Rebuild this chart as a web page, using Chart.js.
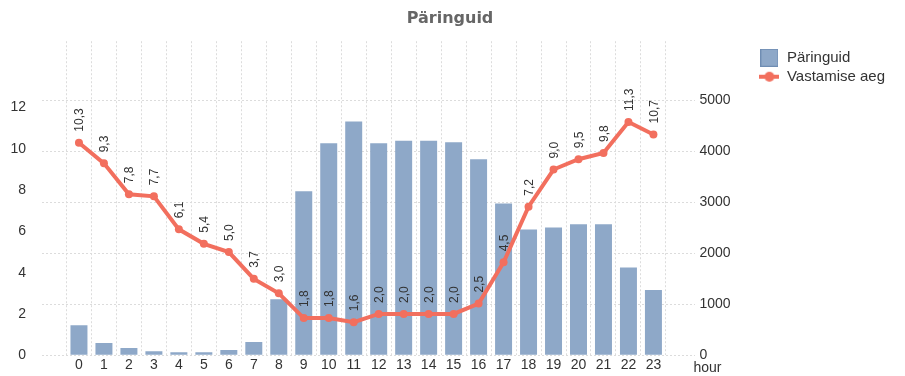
<!DOCTYPE html>
<html>
<head>
<meta charset="utf-8">
<script src="https://cdn.jsdelivr.net/npm/chart.js@4/dist/chart.umd.min.js"></script>
<style>
  html, body { margin: 0; padding: 0; background: #fff; }
  #wrap { width: 905px; height: 376px; }
</style>
</head>
<body>
<div id="wrap"><canvas id="chart" width="905" height="376"></canvas></div>
<script>
// hours of the day
const hours = [0, 1, 2, 3, 4, 5, 6, 7, 8, 9, 10, 11, 12, 13, 14, 15, 16, 17, 18, 19, 20, 21, 22, 23];
// Päringuid (right axis)
const requests = [590, 240, 140, 80, 60, 60, 100, 260, 1100, 3220, 4160, 4590, 4160, 4210, 4210, 4180, 3850, 2980, 2470, 2510, 2570, 2570, 1720, 1280];
// Vastamise aeg (left axis)
const responseTime = [10.3, 9.3, 7.8, 7.7, 6.1, 5.4, 5.0, 3.7, 3.0, 1.8, 1.8, 1.6, 2.0, 2.0, 2.0, 2.0, 2.5, 4.5, 7.2, 9.0, 9.5, 9.8, 11.3, 10.7];
const leftTicks = [0, 2, 4, 6, 8, 10, 12];
const rightTicks = [0, 1000, 2000, 3000, 4000, 5000];

const barColor = '#8ea8c8';
const barEdge = '#6f8db3';
const lineColor = '#f26f5e';
const gridColor = '#dcdcdc';

const fmt = v => v.toFixed(1).replace('.', ',');

// legend icons
function barIcon() {
    const cv = document.createElement('canvas');
    cv.width = 18; cv.height = 18;
    const g = cv.getContext('2d');
    g.fillStyle = barColor;
    g.fillRect(0, 0, 18, 18);
    g.strokeStyle = barEdge;
    g.lineWidth = 1;
    g.strokeRect(0.5, 0.5, 17, 17);
    return cv;
}
function lineIcon() {
    const cv = document.createElement('canvas');
    cv.width = 20; cv.height = 12;
    const g = cv.getContext('2d');
    g.strokeStyle = lineColor;
    g.lineWidth = 4;
    g.beginPath();
    g.moveTo(0, 6); g.lineTo(20, 6);
    g.stroke();
    g.fillStyle = lineColor;
    g.beginPath();
    g.arc(10, 6, 5, 0, Math.PI * 2);
    g.fill();
    return cv;
}

// rotated value labels above the line points
const valueLabels = {
    id: 'valueLabels',
    afterDatasetsDraw(chart) {
        const meta = chart.getDatasetMeta(1);
        const c = chart.ctx;
        c.save();
        c.font = '12px "Liberation Sans", Arial, sans-serif';
        c.fillStyle = '#333';
        c.textAlign = 'left';
        c.textBaseline = 'middle';
        meta.data.forEach((pt, i) => {
            c.save();
            c.translate(pt.x + 1, pt.y - 11);
            c.rotate(-Math.PI / 2);
            c.fillText(fmt(responseTime[i]), 0, 0);
            c.restore();
        });
        c.restore();
    }
};

// "hour" axis caption at the right end of the x axis
const hourCaption = {
    id: 'hourCaption',
    afterDraw(chart) {
        const a = chart.chartArea;
        const c = chart.ctx;
        c.save();
        c.font = '14px "Liberation Sans", Arial, sans-serif';
        c.fillStyle = '#333';
        c.textAlign = 'center';
        c.textBaseline = 'middle';
        c.fillText('hour', a.right + 12, a.bottom + 13);
        c.restore();
    }
};

const tickFont = { family: '"Liberation Sans", Arial, sans-serif', size: 14 };

new Chart(document.getElementById('chart').getContext('2d'), {
    type: 'bar',
    data: {
        datasets: [{
            type: 'bar',
            label: 'Päringuid',
            data: hours.map((h, i) => ({ x: h, y: requests[i] })),
            yAxisID: 'y1',
            backgroundColor: barColor,
            borderColor: barEdge,
            borderWidth: 0,
            barPercentage: 0.68,
            categoryPercentage: 1,
            order: 2
        }, {
            type: 'line',
            label: 'Vastamise aeg',
            data: hours.map((h, i) => ({ x: h, y: responseTime[i] })),
            yAxisID: 'y',
            borderColor: lineColor,
            backgroundColor: lineColor,
            borderWidth: 4,
            pointRadius: 4,
            pointBorderWidth: 0,
            tension: 0,
            order: 1
        }]
    },
    options: {
        responsive: false,
        animation: false,
        layout: { padding: { left: 5, right: 10, top: 0, bottom: 0 } },
        plugins: {
            title: {
                display: true,
                text: 'Päringuid',
                color: '#666',
                font: { family: '"DejaVu Sans", Verdana, sans-serif', size: 16, weight: 'bold' },
                padding: { top: 9, bottom: 13 }
            },
            legend: {
                position: 'right',
                align: 'start',
                title: { display: true, text: ' ', font: { size: 1 }, padding: { top: 45, bottom: 0 } },
                labels: {
                    color: '#333',
                    font: { family: '"Liberation Sans", Arial, sans-serif', size: 15 },
                    usePointStyle: true,
                    pointStyleWidth: 20,
                    boxHeight: 18,
                    padding: 4,
                    sort: (a, b) => a.datasetIndex - b.datasetIndex,
                    generateLabels(chart) {
                        const items = Chart.defaults.plugins.legend.labels.generateLabels(chart);
                        items.forEach(it => {
                            it.pointStyle = it.datasetIndex === 0 ? barIcon() : lineIcon();
                        });
                        return items;
                    }
                }
            },
            tooltip: { enabled: false }
        },
        scales: {
            x: {
                type: 'linear',
                offset: false,
                min: -1.48,
                max: 24.68,
                afterBuildTicks: s => { s.ticks = hours.map(h => ({ value: h })); },
                ticks: {
                    color: '#333',
                    font: tickFont,
                    padding: 2,
                    callback: v => String(v)
                },
                grid: { color: gridColor, drawTicks: false },
                border: { display: false, dash: [2, 2] }
            },
            y: {
                position: 'left',
                min: 0,
                max: 15.22,
                afterBuildTicks: s => { s.ticks = leftTicks.map(v => ({ value: v })); },
                afterFit: s => { s.width = 37; },
                ticks: { color: '#333', font: tickFont, padding: 8 },
                grid: { display: false },
                border: { display: false }
            },
            y1: {
                position: 'right',
                min: 0,
                max: 6166,
                afterBuildTicks: s => { s.ticks = rightTicks.map(v => ({ value: v })); },
                afterFit: s => { s.width = 60; },
                ticks: { color: '#333', font: tickFont, padding: 4, callback: v => String(v) },
                grid: { color: gridColor, drawTicks: false },
                border: { display: false, dash: [2, 2] }
            }
        }
    },
    plugins: [valueLabels, hourCaption]
});
</script>
</body>
</html>
